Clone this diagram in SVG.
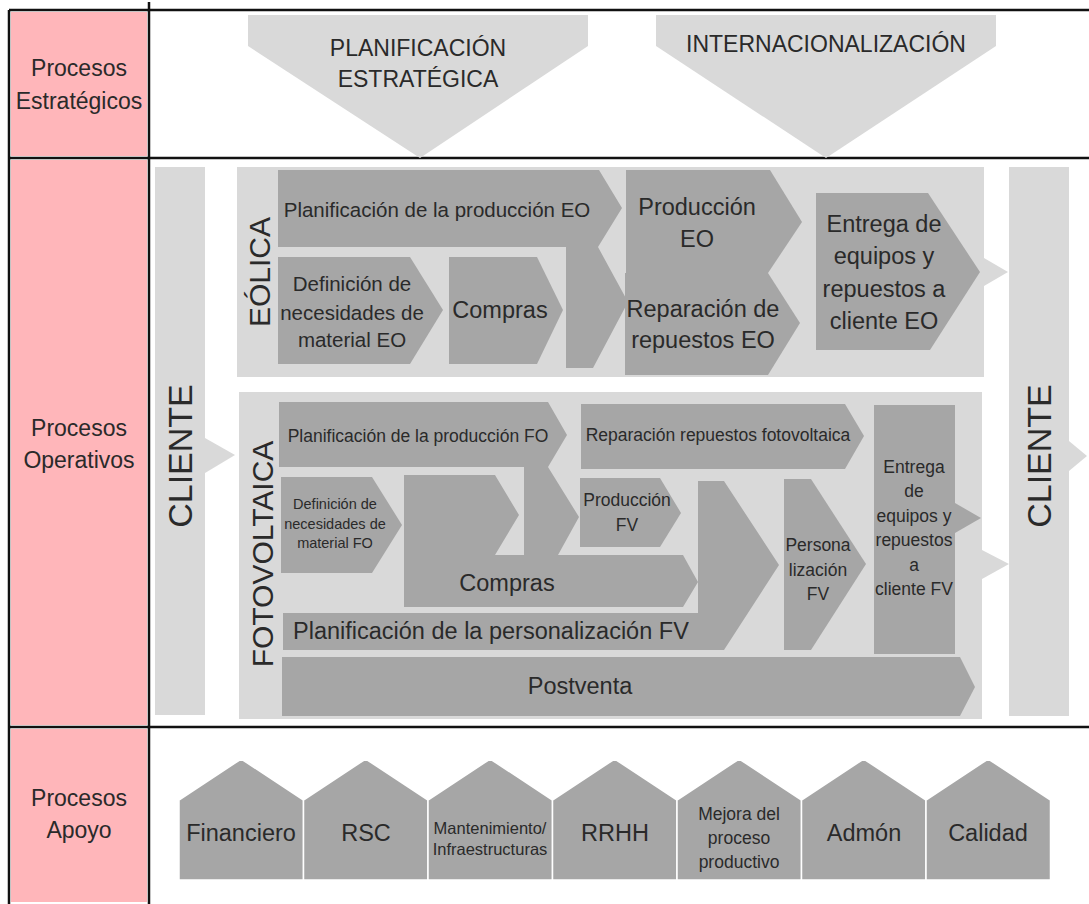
<svg xmlns="http://www.w3.org/2000/svg" width="1089" height="904" viewBox="0 0 1089 904">
<style>
text{font-family:"Liberation Sans",Arial,sans-serif;fill:#2a2a2a}
.pink{fill:#ffb6ba}
.lt{fill:#d9d9d9}
.dk{fill:#a6a6a6}
.hs{fill:#a6a6a6;stroke:#ffffff;stroke-width:1.5}
.ln{stroke:#111;stroke-width:2.5;fill:none}
.c{text-anchor:middle}
.b{font-size:23.5px}
.r{font-size:23px}
.e{font-size:20.5px}
.m{font-size:17.5px}
.s{font-size:14.5px}
</style>
<rect width="1089" height="904" fill="#ffffff"/>
<g id="row-labels">
<rect class="pink" x="11" y="12" width="136" height="144"/>
<rect class="pink" x="11" y="160" width="136" height="565"/>
<rect class="pink" x="11" y="729" width="136" height="173"/>
<text class="c r" x="79" y="76">Procesos</text>
<text class="c r" x="79" y="109">Estratégicos</text>
<text class="c r" x="79" y="436">Procesos</text>
<text class="c r" x="79" y="468">Operativos</text>
<text class="c r" x="79" y="806">Procesos</text>
<text class="c r" x="79" y="838">Apoyo</text>
</g>
<g id="grid">
<line class="ln" x1="9" y1="10" x2="1089" y2="10"/>
<line class="ln" x1="9" y1="158" x2="1089" y2="158"/>
<line class="ln" x1="9" y1="727" x2="1089" y2="727"/>
<line class="ln" x1="9" y1="10" x2="9" y2="904"/>
<line class="ln" x1="149" y1="2" x2="149" y2="904"/>
</g>
<g id="planificacion-estrategica">
<polygon class="lt" points="248,15 588,15 588,46 420,158 248,46"/>
<text class="c r" x="418" y="56">PLANIFICACIÓN</text>
<text class="c r" x="418" y="87">ESTRATÉGICA</text>
</g>
<g id="internacionalizacion">
<polygon class="lt" points="656,15 996,15 996,46 826,158 656,46"/>
<text class="c r" x="826" y="52">INTERNACIONALIZACIÓN</text>
</g>
<g id="cliente-in">
<rect class="lt" x="155" y="167" width="50" height="548"/>
<text class="c" font-size="34" transform="translate(192,456) rotate(-90)">CLIENTE</text>
</g>
<g id="cliente-out">
<rect class="lt" x="1009" y="167" width="60" height="549"/>
<text class="c" font-size="34" transform="translate(1051,456) rotate(-90)">CLIENTE</text>
</g>
<g id="eolica">
<rect class="lt" x="237" y="167" width="747" height="210"/>
<text class="c" font-size="30" transform="translate(270,272) rotate(-90)">EÓLICA</text>
</g>
<g id="eo-planificacion">
<polygon class="dk" points="278,170 599,170 622,208 598,247 628,302 593,368 566,368 566,247 278,247"/>
<text class="c e" x="437" y="217">Planificación de la producción EO</text>
</g>
<g id="eo-definicion">
<polygon class="dk" points="278,257 410,257 443,310 410,364 278,364"/>
<text class="c e" x="352" y="291">Definición de</text>
<text class="c e" x="352" y="320">necesidades de</text>
<text class="c e" x="352" y="347">material EO</text>
</g>
<g id="eo-compras">
<polygon class="dk" points="449,257 537,257 563,310 537,364 449,364"/>
<text class="c b" x="500" y="318">Compras</text>
</g>
<g id="eo-produccion">
<polygon class="dk" points="626,170 770,170 802,222 768,273 626,273"/>
<text class="c b" x="697" y="215">Producción</text>
<text class="c b" x="697" y="247">EO</text>
</g>
<g id="eo-reparacion">
<polygon class="dk" points="625,273 768,273 800,323 768,375 625,375"/>
<text class="c b" x="703" y="317">Reparación de</text>
<text class="c b" x="703" y="348">repuestos EO</text>
</g>
<g id="eo-entrega">
<polygon class="dk" points="816,193 928,193 980,272 930,350 816,350"/>
<text class="c b" x="884" y="232">Entrega de</text>
<text class="c b" x="884" y="264">equipos y</text>
<text class="c b" x="884" y="297">repuestos a</text>
<text class="c b" x="884" y="329">cliente EO</text>
</g>
<g id="fotovoltaica">
<rect class="lt" x="239" y="392" width="743" height="327"/>
<text class="c" font-size="30" transform="translate(273,554) rotate(-90)">FOTOVOLTAICA</text>
</g>
<g id="fv-planificacion">
<polygon class="dk" points="279,402 548,402 567,435 548,467 579,517 558,555 524,555 524,467 279,467"/>
<text class="c m" x="418" y="442">Planificación de la producción FO</text>
</g>
<g id="fv-reparacion">
<polygon class="dk" points="581,404 845,404 864,436 845,469 581,469"/>
<text class="c m" x="718" y="441">Reparación repuestos fotovoltaica</text>
</g>
<g id="fv-definicion">
<polygon class="dk" points="281,477 372,477 402,525 372,573 281,573"/>
<text class="c s" x="335" y="509">Definición de</text>
<text class="c s" x="335" y="529">necesidades de</text>
<text class="c s" x="335" y="548">material FO</text>
</g>
<g id="fv-compras">
<polygon class="dk" points="404,475 495,475 519,515 495,555 683,555 698,582 683,607 404,607"/>
<text class="c b" x="507" y="591">Compras</text>
</g>
<g id="fv-produccion">
<polygon class="dk" points="580,478 660,478 681,513 660,547 580,547"/>
<text class="c m" x="627" y="506">Producción</text>
<text class="c m" x="627" y="531">FV</text>
</g>
<g id="fv-plan-personalizacion">
<polygon class="dk" points="283,613 698,613 698,481 724,481 779,565 724,650 283,650"/>
<text class="b" x="293" y="639">Planificación de la personalización FV</text>
</g>
<g id="fv-personalizacion">
<polygon class="dk" points="784,479 811,479 866,564 811,650 784,650"/>
<text class="c m" x="818" y="551">Persona</text>
<text class="c m" x="818" y="576">lización</text>
<text class="c m" x="818" y="600">FV</text>
</g>
<g id="fv-entrega">
<rect class="dk" x="874" y="405" width="81" height="249"/>
<text class="c m" x="914" y="473">Entrega</text>
<text class="c m" x="914" y="497">de</text>
<text class="c m" x="914" y="522">equipos y</text>
<text class="c m" x="914" y="546">repuestos</text>
<text class="c m" x="914" y="571">a</text>
<text class="c m" x="914" y="595">cliente FV</text>
</g>
<g id="fv-postventa">
<polygon class="dk" points="282,657 960,657 975,687 960,716 282,716"/>
<text class="c b" x="580" y="694">Postventa</text>
</g>
<g id="connectors">
<polygon class="lt" points="205,438 235,455 205,473"/>
<polygon class="lt" points="1069,441 1087,456 1069,471"/>
<polygon class="lt" points="984,258 1008,272 984,286"/>
<polygon class="dk" points="955,503 981,518 955,533"/>
<polygon class="lt" points="982,550 1009,564 982,579"/>
</g>
<g id="apoyo-financiero">
<polygon class="hs" points="179,800 241.2,759 303.5,800 303.5,880 179,880"/>
<text class="c b" x="241" y="841">Financiero</text>
</g>
<g id="apoyo-rsc">
<polygon class="hs" points="303.5,800 365.7,759 428,800 428,880 303.5,880"/>
<text class="c b" x="366" y="841">RSC</text>
</g>
<g id="apoyo-mantenimiento">
<polygon class="hs" points="428,800 490.2,759 552.5,800 552.5,880 428,880"/>
<text class="c" font-size="16.5" x="490" y="834">Mantenimiento/</text>
<text class="c" font-size="16.5" x="490" y="855">Infraestructuras</text>
</g>
<g id="apoyo-rrhh">
<polygon class="hs" points="552.5,800 614.7,759 677,800 677,880 552.5,880"/>
<text class="c b" x="615" y="841">RRHH</text>
</g>
<g id="apoyo-mejora">
<polygon class="hs" points="677,800 739.2,759 801.5,800 801.5,880 677,880"/>
<text class="c m" x="739" y="820">Mejora del</text>
<text class="c m" x="739" y="844">proceso</text>
<text class="c m" x="739" y="868">productivo</text>
</g>
<g id="apoyo-admon">
<polygon class="hs" points="801.5,800 863.7,759 926,800 926,880 801.5,880"/>
<text class="c b" x="864" y="841">Admón</text>
</g>
<g id="apoyo-calidad">
<polygon class="hs" points="926,800 988.2,759 1050.5,800 1050.5,880 926,880"/>
<text class="c b" x="988" y="841">Calidad</text>
</g>
</svg>
